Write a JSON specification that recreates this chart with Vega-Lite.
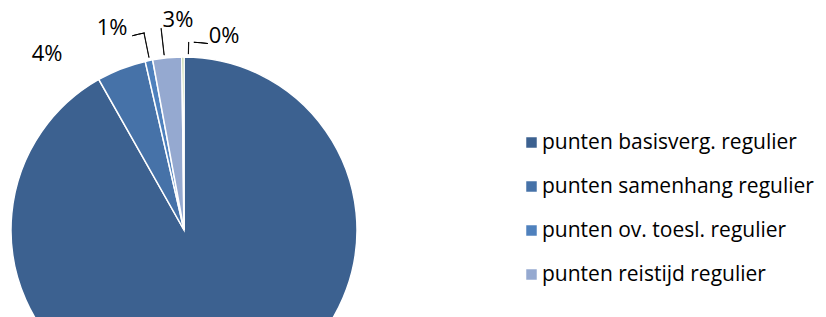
{
  "$schema": "https://vega.github.io/schema/vega-lite/v6.json",
  "width": 368,
  "height": 460,
  "padding": {"left": 0, "top": 0, "right": 458, "bottom": 0},
  "autosize": {"type": "none"},
  "background": "white",
  "config": {"view": {"stroke": null}, "font": "Open Sans"},
  "datasets": {
    "shares": [
      {"cat": "punten basisverg. regulier", "idx": 1, "value": 91.8, "lbl": "92%"},
      {"cat": "punten samenhang regulier", "idx": 2, "value": 4.6, "lbl": "4%"},
      {"cat": "punten ov. toesl. regulier", "idx": 3, "value": 0.7, "lbl": "1%"},
      {"cat": "punten reistijd regulier", "idx": 4, "value": 2.7, "lbl": "3%"},
      {"cat": "punten overig regulier", "idx": 5, "value": 0.2, "lbl": "0%"}
    ],
    "one": [{"k": 1}]
  },
  "data": {"name": "shares"},
  "layer": [
    {
      "mark": {"type": "arc", "outerRadius": 173, "stroke": "white", "strokeWidth": 1.5},
      "encoding": {
        "theta": {"field": "value", "type": "quantitative", "stack": true},
        "order": {"field": "idx", "type": "quantitative", "sort": "ascending"},
        "color": {
          "field": "cat",
          "type": "nominal",
          "scale": {
            "domain": ["punten basisverg. regulier", "punten samenhang regulier", "punten ov. toesl. regulier", "punten reistijd regulier", "punten overig regulier"],
            "range": ["#3C6190", "#4672A8", "#4F81BD", "#95A9D0", "#8DB255"]
          },
          "legend": {
            "values": ["punten basisverg. regulier", "punten samenhang regulier", "punten ov. toesl. regulier", "punten reistijd regulier"],
            "title": null,
            "orient": "none",
            "legendX": 521,
            "legendY": 132,
            "symbolType": "square",
            "symbolSize": 110,
            "symbolStrokeWidth": 0,
            "labelFont": "Open Sans",
            "labelFontSize": 21,
            "labelColor": "#000000",
            "labelOffset": 0,
            "rowPadding": 22,
            "labelLimit": 400
          }
        }
      }
    },
    {"data": {"name": "one"}, "mark": {"type": "arc", "radius": 201, "radius2": 201, "fill": null, "stroke": "black", "strokeWidth": 1}, "encoding": {"theta": {"datum": 95.861}, "theta2": {"datum": 96.861}}},
    {"data": {"name": "one"}, "mark": {"type": "arc", "radius": 201, "radius2": 176, "fill": "black", "stroke": "black", "strokeWidth": 0.8}, "encoding": {"theta": {"datum": 96.806}, "theta2": {"datum": 96.82}}},
    {"data": {"name": "one"}, "mark": {"type": "arc", "radius": 203, "radius2": 176, "fill": "black", "stroke": "black", "strokeWidth": 0.8}, "encoding": {"theta": {"datum": 98.194}, "theta2": {"datum": 98.208}}},
    {"data": {"name": "one"}, "mark": {"type": "arc", "radius": 188, "radius2": 188, "fill": null, "stroke": "black", "strokeWidth": 1}, "encoding": {"theta": {"datum": 0.833}, "theta2": {"datum": 2.028}}},
    {"data": {"name": "one"}, "mark": {"type": "arc", "radius": 188, "radius2": 176, "fill": "black", "stroke": "black", "strokeWidth": 0.8}, "encoding": {"theta": {"datum": 0.389}, "theta2": {"datum": 0.403}}},
    {
      "mark": {"type": "text", "radius": 200, "dx": -64.5, "dy": 10.4, "fontSize": 22, "font": "Open Sans", "color": "black", "align": "center", "baseline": "middle"},
      "encoding": {
        "theta": {"field": "value", "type": "quantitative", "stack": true},
        "order": {"field": "idx", "type": "quantitative", "sort": "ascending"},
        "text": {"condition": {"test": "datum.idx === 2", "field": "lbl"}, "value": ""}
      }
    },
    {
      "mark": {"type": "text", "radius": 200, "dx": -31.4, "dy": -6.2, "fontSize": 22, "font": "Open Sans", "color": "black", "align": "center", "baseline": "middle"},
      "encoding": {
        "theta": {"field": "value", "type": "quantitative", "stack": true},
        "order": {"field": "idx", "type": "quantitative", "sort": "ascending"},
        "text": {"condition": {"test": "datum.idx === 3", "field": "lbl"}, "value": ""}
      }
    },
    {
      "mark": {"type": "text", "radius": 200, "dx": 13.4, "dy": -10.9, "fontSize": 22, "font": "Open Sans", "color": "black", "align": "center", "baseline": "middle"},
      "encoding": {
        "theta": {"field": "value", "type": "quantitative", "stack": true},
        "order": {"field": "idx", "type": "quantitative", "sort": "ascending"},
        "text": {"condition": {"test": "datum.idx === 4", "field": "lbl"}, "value": ""}
      }
    },
    {
      "mark": {"type": "text", "radius": 200, "dx": 41.3, "dy": 6, "fontSize": 22, "font": "Open Sans", "color": "black", "align": "center", "baseline": "middle"},
      "encoding": {
        "theta": {"field": "value", "type": "quantitative", "stack": true},
        "order": {"field": "idx", "type": "quantitative", "sort": "ascending"},
        "text": {"condition": {"test": "datum.idx === 5", "field": "lbl"}, "value": ""}
      }
    }
  ]
}
